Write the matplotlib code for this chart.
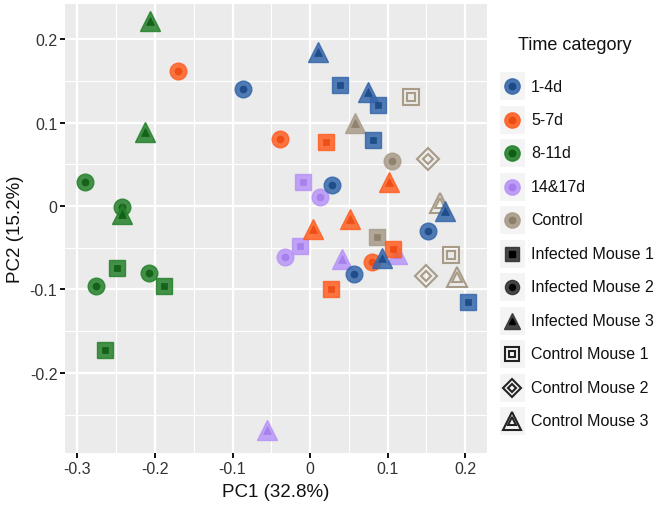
import matplotlib
matplotlib.use("Agg")
import matplotlib.pyplot as plt
from matplotlib.patches import Rectangle
from matplotlib.ticker import MultipleLocator

plt.rcParams['font.family'] = ['Liberation Sans', 'DejaVu Sans']

# -------------------------------------
# Data (PC1, PC2, mouse) per time category
# -------------------------------------
pc1_1_4d = [-0.086, 0.010, 0.039, 0.074, 0.088, 0.081, 0.028, 0.174, 0.152, 0.093, 0.057, 0.204]
pc2_1_4d = [0.140, 0.184, 0.145, 0.136, 0.121, 0.079, 0.025, -0.006, -0.030, -0.062, -0.082, -0.115]
mouse_1_4d = ['I2', 'I3', 'I1', 'I3', 'I1', 'I1', 'I2', 'I3', 'I2', 'I3', 'I2', 'I1']

pc1_5_7d = [-0.170, -0.039, 0.021, 0.102, 0.052, 0.004, 0.107, 0.080, 0.027]
pc2_5_7d = [0.162, 0.080, 0.077, 0.029, -0.016, -0.028, -0.051, -0.067, -0.099]
mouse_5_7d = ['I2', 'I2', 'I1', 'I3', 'I3', 'I3', 'I1', 'I2', 'I1']

pc1_8_11d = [-0.206, -0.213, -0.290, -0.243, -0.243, -0.249, -0.276, -0.208, -0.188, -0.265]
pc2_8_11d = [0.222, 0.089, 0.029, -0.001, -0.010, -0.074, -0.096, -0.080, -0.096, -0.172]
mouse_8_11d = ['I3', 'I3', 'I2', 'I2', 'I3', 'I1', 'I2', 'I2', 'I1', 'I1']

pc1_14_17d = [-0.009, 0.013, -0.013, -0.032, 0.041, 0.112, -0.056]
pc2_14_17d = [0.029, 0.011, -0.048, -0.061, -0.064, -0.058, -0.269]
mouse_14_17d = ['I1', 'I2', 'I1', 'I2', 'I3', 'I3', 'I3']

pc1_control = [0.058, 0.130, 0.105, 0.152, 0.168, 0.086, 0.181, 0.150, 0.189]
pc2_control = [0.100, 0.131, 0.054, 0.056, 0.003, -0.037, -0.059, -0.084, -0.085]
mouse_control = ['I3', 'C1', 'I2', 'C2', 'C3', 'I1', 'C1', 'C2', 'C3']

time_labels = ['1-4d', '5-7d', '8-11d', '14&17d', 'Control']
mouse_labels = ['Infected Mouse 1', 'Infected Mouse 2', 'Infected Mouse 3',
                'Control Mouse 1', 'Control Mouse 2', 'Control Mouse 3']
mouse_codes = ['I1', 'I2', 'I3', 'C1', 'C2', 'C3']

# -------------------------------------
# Styles
# -------------------------------------
colors = {'1-4d': ('#3566AA', '#1B4A86'),
          '5-7d': ('#FF5F22', '#EE4A12'),
          '8-11d': ('#24802A', '#0F5E14'),
          '14&17d': ('#B894F7', '#A47EEC'),
          'Control': ('#A89C88', '#8C806C')}
shapes = {'I1': ('s', 11.5, True), 'I2': ('o', 12, True), 'I3': ('^', 14, True),
          'C1': ('s', 12, False), 'C2': ('D', 11, False), 'C3': ('^', 15, False)}


def draw_point(ax, x, y, code, color, dark, scale=1.0):
    marker, size, filled = shapes[code]
    size = size * scale
    if filled:
        ax.plot(x, y, marker=marker, ms=size, mfc=color, mec=color, mew=1.0,
                alpha=0.85, ls='none')
        ax.plot(x, y, marker=marker, ms=size * 0.42, mfc=dark, mec=dark, mew=0.5,
                alpha=0.9, ls='none')
    else:
        ax.plot(x, y, marker=marker, ms=size, mfc='none', mec=color, mew=1.5, ls='none')
        ax.plot(x, y, marker=marker, ms=size * 0.45, mfc='none', mec=color, mew=1.5,
                ls='none')


fig = plt.figure(figsize=(6.61, 5.10), dpi=100)
ax = fig.add_axes([65 / 661, 56 / 510, 422 / 661, 449 / 510])
ax.set_facecolor('#EBEBEB')
for s in ax.spines.values():
    s.set_visible(False)

groups = [('Control', pc1_control, pc2_control, mouse_control),
          ('14&17d', pc1_14_17d, pc2_14_17d, mouse_14_17d),
          ('8-11d', pc1_8_11d, pc2_8_11d, mouse_8_11d),
          ('5-7d', pc1_5_7d, pc2_5_7d, mouse_5_7d),
          ('1-4d', pc1_1_4d, pc2_1_4d, mouse_1_4d)]
for label, xs, ys, ms in groups:
    c, d = colors[label]
    for x, y, m in zip(xs, ys, ms):
        draw_point(ax, x, y, m, c, d)

ax.set_xlim(-0.316, 0.228)
ax.set_ylim(-0.296, 0.242)
ax.xaxis.set_major_locator(MultipleLocator(0.1))
ax.yaxis.set_major_locator(MultipleLocator(0.1))
ax.xaxis.set_minor_locator(MultipleLocator(0.05))
ax.yaxis.set_minor_locator(MultipleLocator(0.05))
ax.set_axisbelow(True)
ax.grid(True, which='major', color='white', lw=1.6)
ax.grid(True, which='minor', color='white', lw=0.8)
ax.tick_params(which='minor', length=0)
ax.tick_params(which='major', length=3.5, width=1.4, color='#111111',
               labelsize=11.5, labelcolor='#333333', pad=2)
fmt = plt.FuncFormatter(lambda v, p: f"{v:.1f}" if abs(v) > 1e-9 else '0')
ax.xaxis.set_major_formatter(fmt)
ax.yaxis.set_major_formatter(fmt)
ax.set_xlabel('PC1 (32.8%)', fontsize=13.5, color='#111111', labelpad=5)
ax.set_ylabel('PC2 (15.2%)', fontsize=13.5, color='#111111', labelpad=4)

# -------------------------------------
# Legend (drawn manually, ggplot style)
# -------------------------------------
lax = fig.add_axes([490 / 661, 0, 171 / 661, 1])
lax.set_xlim(490, 661)
lax.set_ylim(510, 0)
lax.axis('off')
lax.text(518, 45, 'Time category', fontsize=13, va='center', ha='left', color='#111111')

row_y = [87 + i * 33.5 for i in range(11)]
entries = [(lab, 'o', colors[lab][0], colors[lab][1], True, 11) for lab in time_labels]
for code, lab in zip(mouse_codes, mouse_labels):
    marker, size, filled = shapes[code]
    entries.append((lab, marker, '#333333', '#000000', filled, size * 0.85))

for (lab, marker, c, d, filled, size), y in zip(entries, row_y):
    lax.add_patch(Rectangle((500, y - 14), 25, 28, color='#F4F4F4', lw=0))
    if filled:
        lax.plot(512, y, marker=marker, ms=size, mfc=c, mec=c, mew=1.0, alpha=0.9, ls='none')
        lax.plot(512, y, marker=marker, ms=size * 0.42, mfc=d, mec=d, ls='none')
    else:
        lax.plot(512, y, marker=marker, ms=size, mfc='none', mec='#222222', mew=1.5, ls='none')
        lax.plot(512, y, marker=marker, ms=size * 0.45, mfc='none', mec='#222222', mew=1.5, ls='none')
    lax.text(531, y, lab, fontsize=11.5, va='center', ha='left', color='#111111')

fig.savefig('out.png', dpi=100)
